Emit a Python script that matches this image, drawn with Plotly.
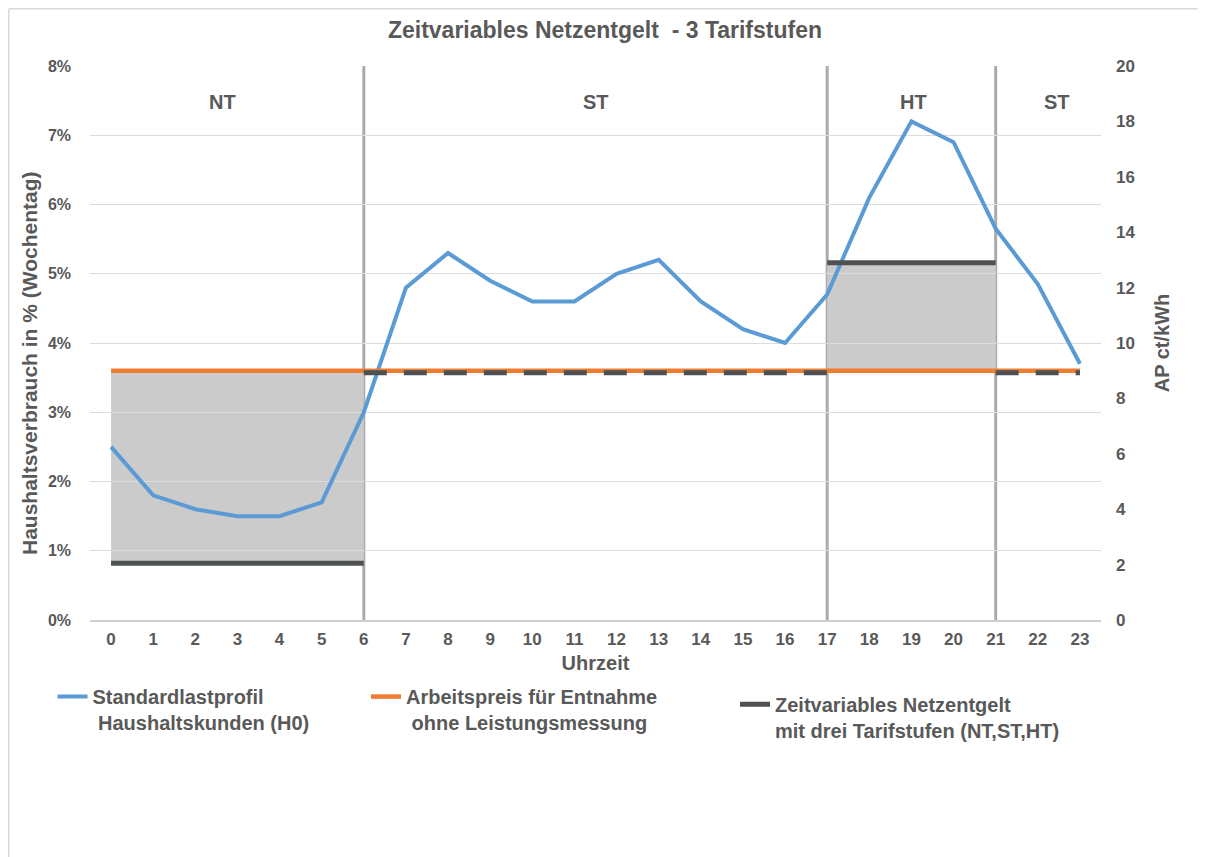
import plotly.graph_objects as go

# ---------------- data ----------------
hours = list(range(24))
load_profile_pct = [2.5, 1.8, 1.6, 1.5, 1.5, 1.7, 3.0, 4.8, 5.3, 4.9, 4.6, 4.6,
                    5.0, 5.2, 4.6, 4.2, 4.0, 4.7, 6.1, 7.2, 6.9, 5.65, 4.85, 3.7]

ap_hours = [0, 23]
ap_price = 9.0          # ct/kWh, Arbeitspreis ohne Leistungsmessung

nt_hours = [0, 6]
nt_price = 2.05
st1_hours = [6, 17]
st2_hours = [21, 23]
st_price = 8.93
ht_hours = [17, 21]
ht_price = 12.9

boundaries = [6, 17, 21]
zone_labels = ["NT", "ST", "HT", "ST"]
zone_label_x = [2.65, 11.5, 19.05, 22.45]
zone_label_y = 7.48

y_ticks = list(range(0, 9))
y2_ticks = list(range(0, 21, 2))

# ---------------- styling ----------------
FONT = "Liberation Sans, Arial, sans-serif"
TXT = "#595959"
BLUE = "#5b9bd5"
ORANGE = "#ed7d31"
DARK = "#4e5152"
SHADE = "#cbcbcb"
VLINE = "#ababab"

fig = go.Figure()

# tariff traces (right axis)
fig.add_trace(go.Scatter(
    x=ap_hours, y=[ap_price, ap_price], yaxis="y2", mode="lines",
    line=dict(color=ORANGE, width=4.5),
    name="<b>Arbeitspreis für Entnahme<br> ohne Leistungsmessung</b>",
    legend="legend2"))
fig.add_trace(go.Scatter(
    x=st1_hours, y=[st_price, st_price], yaxis="y2", mode="lines",
    line=dict(color=DARK, width=5, dash="23px,17px"), showlegend=False))
fig.add_trace(go.Scatter(
    x=st2_hours, y=[st_price, st_price], yaxis="y2", mode="lines",
    line=dict(color=DARK, width=5, dash="23px,17px"), showlegend=False))
fig.add_trace(go.Scatter(
    x=ht_hours, y=[ht_price, ht_price], yaxis="y2", mode="lines",
    line=dict(color=DARK, width=5), showlegend=False))
fig.add_trace(go.Scatter(
    x=nt_hours, y=[nt_price, nt_price], yaxis="y2", mode="lines",
    line=dict(color=DARK, width=5),
    name="<b>Zeitvariables Netzentgelt<br>mit drei Tarifstufen (NT,ST,HT)</b>",
    legend="legend3"))

# load profile (left axis)
fig.add_trace(go.Scatter(
    x=hours, y=load_profile_pct, mode="lines",
    line=dict(color=BLUE, width=4),
    name="<b>Standardlastprofil<br> Haushaltskunden (H0)</b>",
    legend="legend"))

# shaded areas between AP and tariff levels
shapes = [
    dict(type="rect", xref="x", yref="y2", x0=nt_hours[0], x1=nt_hours[1],
         y0=nt_price, y1=ap_price, fillcolor=SHADE, line=dict(width=0), layer="below"),
    dict(type="rect", xref="x", yref="y2", x0=ht_hours[0], x1=ht_hours[1],
         y0=ap_price, y1=ht_price, fillcolor=SHADE, line=dict(width=0), layer="below"),
]
for b in boundaries:
    shapes.append(dict(type="line", xref="x", yref="paper", x0=b, x1=b, y0=0, y1=1,
                       line=dict(color=VLINE, width=3), layer="between"))
# outer frame (left and top edges)
fx0 = (0.8 - 82) / 1011
fy1 = (612 - 0.8) / 554
shapes.append(dict(type="line", xref="paper", yref="paper", x0=fx0, x1=fx0,
                   y0=-0.45, y1=fy1, line=dict(color="#d9d9d9", width=1.5)))
shapes.append(dict(type="line", xref="paper", yref="paper", x0=fx0, x1=1.1,
                   y0=fy1, y1=fy1, line=dict(color="#d9d9d9", width=1.5)))

annotations = [
    dict(x=zx, y=zone_label_y, xref="x", yref="y", text=f"<b>{lab}</b>",
         showarrow=False, font=dict(family=FONT, size=20, color=TXT))
    for lab, zx in zip(zone_labels, zone_label_x)
]
# left axis title (placed slightly below the axis centre, as in the original)
annotations.append(dict(
    x=-0.0593, y=0.464, xref="paper", yref="paper", textangle=-90,
    text="<b>Haushaltsverbrauch in % (Wochentag)</b>", showarrow=False,
    xanchor="center", yanchor="middle",
    font=dict(family=FONT, size=21, color=TXT)))

legend_common = dict(orientation="v", yanchor="top", xanchor="left",
                     bgcolor="rgba(0,0,0,0)", valign="top",
                     font=dict(family=FONT, size=20, color=TXT),
                     tracegroupgap=0, itemwidth=30)

fig.update_layout(
    width=1206, height=857,
    margin=dict(l=82, r=113, t=58, b=245),
    paper_bgcolor="white", plot_bgcolor="white",
    title=dict(text="<b>Zeitvariables Netzentgelt  - 3 Tarifstufen</b>",
               x=0.495, xanchor="center", y=0.9743, yanchor="middle",
               font=dict(family=FONT, size=23, color=TXT)),
    font=dict(family=FONT, color=TXT),
    xaxis=dict(range=[-0.5, 23.5], tickmode="array", tickvals=hours,
               ticktext=[f"<b>{h}</b>" for h in hours],
               tickfont=dict(family=FONT, size=17, color=TXT),
               showgrid=False, zeroline=False, showline=True,
               linecolor="#d0d0d0", linewidth=2, ticks="", ticklabelstandoff=3,
               title=dict(text="<b>Uhrzeit</b>", standoff=8,
                          font=dict(family=FONT, size=20, color=TXT))),
    yaxis=dict(range=[0, 8], tickmode="array", tickvals=y_ticks,
               ticktext=[f"<b>{v}%</b>" for v in y_ticks],
               tickfont=dict(family=FONT, size=16, color=TXT),
               showgrid=True, gridcolor="#dcdcdc", gridwidth=1,
               zeroline=False, showline=False, ticks="", ticklabelstandoff=18),
    yaxis2=dict(range=[0, 20], overlaying="y", side="right", tickmode="array",
                tickvals=y2_ticks, ticktext=[f"<b>{v}</b>" for v in y2_ticks],
                tickfont=dict(family=FONT, size=17, color=TXT),
                showgrid=False, zeroline=False, showline=False, ticks="",
                ticklabelstandoff=14,
                title=dict(text="<b>AP ct/kWh</b>", standoff=20,
                           font=dict(family=FONT, size=20, color=TXT))),
    legend=dict(x=-0.0371, y=-0.103, **legend_common),
    legend2=dict(x=0.273, y=-0.103, **legend_common),
    legend3=dict(x=0.638, y=-0.117, **legend_common),
    shapes=shapes,
    annotations=annotations,
)

fig.write_html("out.html")
